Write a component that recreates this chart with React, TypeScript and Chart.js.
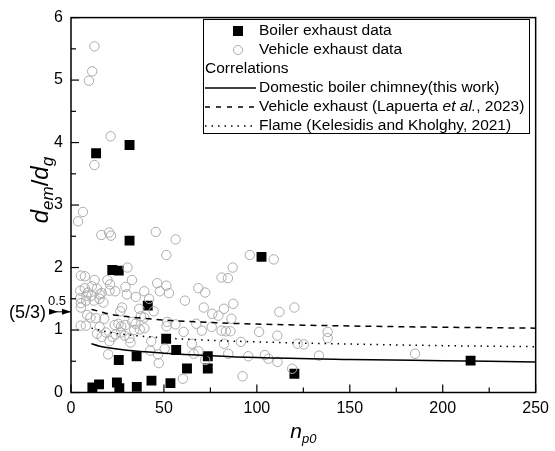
import React, { useEffect, useRef } from "react";
import { Chart, registerables } from "chart.js";
Chart.register(...registerables);

// ---------- data ----------
const boilerN = [13.5, 31.5, 31.5, 22.2, 25.7, 41.3, 51.2, 56.6, 35.3, 25.7, 62.4, 73.6, 73.6, 11.5, 15.1, 24.7, 26, 35.4, 43.3, 53.5, 102.5, 120.2, 215];
const boilerY = [3.83, 3.96, 2.43, 1.96, 1.95, 1.39, 0.86, 0.68, 0.58, 0.52, 0.385, 0.58, 0.385, 0.08, 0.13, 0.16, 0.07, 0.09, 0.19, 0.15, 2.17, 0.3, 0.51];

const vehicleN = [12.6, 11.4, 9.6, 21.3, 12.6, 6.4, 3.8, 16.3, 20.5, 21.5, 45.6, 56.3, 51.3, 30.4, 87, 96.2, 109.1, 81, 84.4, 5.3,
  7.5, 12.7, 19.6, 21, 32.8, 46.4, 51.3, 47.8, 52.7, 29.3, 30, 34.9, 39.4, 42, 68.5, 72.2, 61.3, 71.4, 82.3, 76,
  79.3, 86.3, 87.3, 112.1, 120.2, 5, 7.4, 9, 11.2, 14, 16.5, 20.7, 23.8, 5, 5.3, 5.3, 8.3, 8.1, 11, 12.2,
  15.4, 15.3, 17.4, 8.7, 10.5, 13.4, 17.9, 5.2, 8, 15.4, 14, 18.8, 16.5, 22.3, 20.7, 23.5, 25.5, 27, 29.2, 24,
  26.8, 28.8, 31.5, 32, 34, 37, 39.5, 37.6, 36.7, 27.5, 26.5, 33, 34.7, 44.5, 39.4, 43.2, 42.6, 46.8, 47.2, 50.4,
  20, 51.8, 51.4, 56.2, 67.4, 70.4, 75.7, 81, 83.3, 85.8, 82.3, 60.6, 65, 68.6, 66, 72.2, 60.2, 84.6, 101.2, 111,
  91.4, 122, 125.3, 138.1, 138.1, 95.4, 104.3, 106.2, 111.1, 119, 133.4, 92.3, 185.1];
const vehicleY = [5.54, 5.14, 4.99, 4.1, 3.64, 2.89, 2.74, 2.52, 2.56, 2.51, 2.57, 2.45, 2.2, 2.0, 2.0, 2.2, 2.13, 1.84, 1.83, 1.87,
  1.86, 1.8, 1.8, 1.73, 1.8, 1.75, 1.71, 1.62, 1.59, 1.69, 1.57, 1.53, 1.62, 1.5, 1.67, 1.6, 1.47, 1.36, 1.34, 1.26,
  1.23, 1.18, 1.42, 1.29, 1.36, 1.63, 1.67, 1.6, 1.7, 1.66, 1.59, 1.63, 1.62, 1.51, 1.43, 1.36, 1.55, 1.47, 1.55, 1.47,
  1.57, 1.5, 1.44, 1.24, 1.2, 1.19, 1.18, 1.07, 1.07, 1.05, 0.94, 0.96, 0.89, 0.89, 0.82, 1.08, 1.1, 1.06, 1.08, 0.93,
  0.96, 0.91, 0.87, 0.8, 1.0, 1.01, 1.03, 1.22, 1.34, 1.36, 1.3, 1.13, 1.1, 1.3, 1.2, 0.82, 0.67, 0.61, 0.47, 0.7,
  0.61, 1.13, 1.06, 1.09, 1.1, 0.99, 1.05, 0.99, 0.98, 0.98, 0.78, 0.97, 0.78, 0.66, 0.62, 0.52, 0.22, 0.62, 0.97, 0.91,
  0.81, 0.78, 0.77, 0.97, 0.87, 0.58, 0.6, 0.54, 0.49, 0.38, 0.59, 0.26, 0.62];

const curveN = [11, 15, 20, 30, 50, 75, 100, 150, 200, 250];
const domesticY = [0.78, 0.745, 0.715, 0.675, 0.63, 0.59, 0.56, 0.53, 0.51, 0.49];
const lapuertaY = [1.33, 1.3, 1.26, 1.215, 1.16, 1.12, 1.095, 1.065, 1.045, 1.03];
const flameY = [1.03, 1.0, 0.967, 0.925, 0.874, 0.836, 0.81, 0.775, 0.75, 0.733];

const xTicks = [0, 50, 100, 150, 200, 250];
const yTicks = [0, 1, 2, 3, 4, 5, 6];
const refValue = Math.sqrt(5 / 3);

const legendBoiler = "Boiler exhaust data";
const legendVehicle = "Vehicle exhaust data";
const legendHeader = "Correlations";
const legendDomestic = "Domestic boiler chimney(this work)";
const legendLapuerta = ["Vehicle exhaust (Lapuerta ", "et al.", ", 2023)"];
const legendFlame = "Flame (Kelesidis and Kholghy, 2021)";

const FF = "'Liberation Sans', Arial, sans-serif";
const CIRCLE = "#ababab";
const LEG = 15.5;

const toPts = (xs: number[], ys: number[]) => xs.map((x, i) => ({ x, y: ys[i] }));

const decor = {
  id: "decor",
  afterDraw(chart: any) {
    const ctx = chart.ctx as CanvasRenderingContext2D;
    const { left, right, top, bottom } = chart.chartArea;
    const xs = chart.scales.x;
    const ys = chart.scales.y;
    ctx.save();
    // frame
    ctx.strokeStyle = "#000";
    ctx.lineWidth = 1.5;
    ctx.strokeRect(left, top, right - left, bottom - top);
    // inward ticks
    ctx.lineWidth = 1.2;
    const xStep = xTicks[1] - xTicks[0];
    for (let i = 0; i < xTicks.length; i++) {
      const v = xTicks[i];
      let p = xs.getPixelForValue(v);
      ctx.beginPath(); ctx.moveTo(p, bottom); ctx.lineTo(p, bottom - 8); ctx.stroke();
      if (i < xTicks.length - 1) {
        p = xs.getPixelForValue(v + xStep / 2);
        ctx.beginPath(); ctx.moveTo(p, bottom); ctx.lineTo(p, bottom - 5); ctx.stroke();
      }
    }
    const yStep = yTicks[1] - yTicks[0];
    for (let i = 0; i < yTicks.length; i++) {
      const v = yTicks[i];
      let p = ys.getPixelForValue(v);
      ctx.beginPath(); ctx.moveTo(left, p); ctx.lineTo(left + 8, p); ctx.stroke();
      if (i < yTicks.length - 1) {
        p = ys.getPixelForValue(v + yStep / 2);
        ctx.beginPath(); ctx.moveTo(left, p); ctx.lineTo(left + 5, p); ctx.stroke();
      }
    }

    // (5/3)^0.5 annotation
    const ry = ys.getPixelForValue(refValue);
    ctx.fillStyle = "#000";
    ctx.textBaseline = "alphabetic";
    ctx.textAlign = "left";
    ctx.font = `18px ${FF}`;
    ctx.fillText("(5/3)", 9, ry + 6);
    ctx.font = `13px ${FF}`;
    ctx.fillText("0.5", 48, ry - 7);
    ctx.lineWidth = 1;
    ctx.beginPath(); ctx.moveTo(50, ry); ctx.lineTo(left, ry); ctx.stroke();
    const tri = (tipX: number) => {
      ctx.beginPath();
      ctx.moveTo(tipX, ry);
      ctx.lineTo(tipX - 9, ry - 3);
      ctx.lineTo(tipX - 9, ry + 3);
      ctx.closePath();
      ctx.fill();
    };
    tri(58);
    tri(left);

    // axis titles
    const drawParts = (parts: { t: string; font: string; dy: number }[], x: number, y: number, center: boolean) => {
      let w = 0;
      for (const p of parts) { ctx.font = p.font; w += ctx.measureText(p.t).width; }
      let cx = center ? x - w / 2 : x;
      for (const p of parts) {
        ctx.font = p.font;
        ctx.fillText(p.t, cx, y + p.dy);
        cx += ctx.measureText(p.t).width;
      }
    };
    ctx.textAlign = "left";
    drawParts([
      { t: "n", font: `italic 21px ${FF}`, dy: 0 },
      { t: "p0", font: `italic 13px ${FF}`, dy: 5 },
    ], (left + right) / 2, 438, true);

    ctx.save();
    ctx.translate(40, (top + bottom) / 2 - 15);
    ctx.rotate(-Math.PI / 2);
    drawParts([
      { t: "d", font: `italic 24px ${FF}`, dy: 0 },
      { t: "em", font: `italic 17px ${FF}`, dy: 5 },
      { t: "/", font: `24px ${FF}`, dy: 0 },
      { t: "d", font: `italic 24px ${FF}`, dy: 0 },
      { t: "g", font: `italic 17px ${FF}`, dy: 5 },
    ], 0, 8, true);
    ctx.restore();

    // legend
    const lx = 203, ly = 19, lw = 326, lh = 114;
    ctx.fillStyle = "#fff";
    ctx.fillRect(lx, ly, lw, lh);
    ctx.strokeStyle = "#000";
    ctx.lineWidth = 1;
    ctx.strokeRect(lx + 0.5, ly + 0.5, lw, lh);
    ctx.fillStyle = "#000";
    ctx.textBaseline = "middle";
    ctx.font = `${LEG}px ${FF}`;
    const tx = 259;
    const rows = [31, 50, 69, 88, 107, 126];
    // boiler
    ctx.fillRect(233, rows[0] - 5, 10, 10);
    ctx.fillText(legendBoiler, tx, rows[0]);
    // vehicle
    ctx.strokeStyle = CIRCLE;
    ctx.beginPath(); ctx.arc(238, rows[1], 4.5, 0, Math.PI * 2); ctx.stroke();
    ctx.fillText(legendVehicle, tx, rows[1]);
    ctx.fillText(legendHeader, 205, rows[2]);
    ctx.strokeStyle = "#000";
    ctx.lineWidth = 1.5;
    ctx.beginPath(); ctx.moveTo(205, rows[3]); ctx.lineTo(256, rows[3]); ctx.stroke();
    ctx.fillText(legendDomestic, tx, rows[3]);
    ctx.setLineDash([5, 6]);
    ctx.beginPath(); ctx.moveTo(205, rows[4]); ctx.lineTo(256, rows[4]); ctx.stroke();
    drawParts([
      { t: legendLapuerta[0], font: `${LEG}px ${FF}`, dy: 0 },
      { t: legendLapuerta[1], font: `italic ${LEG}px ${FF}`, dy: 0 },
      { t: legendLapuerta[2], font: `${LEG}px ${FF}`, dy: 0 },
    ], tx, rows[4], false);
    ctx.setLineDash([1.5, 5]);
    ctx.beginPath(); ctx.moveTo(205, rows[5]); ctx.lineTo(256, rows[5]); ctx.stroke();
    ctx.setLineDash([]);
    ctx.font = `${LEG}px ${FF}`;
    ctx.fillText(legendFlame, tx, rows[5]);
    ctx.restore();
  },
};

export default function App() {
  const ref = useRef<HTMLCanvasElement | null>(null);
  useEffect(() => {
    if (!ref.current) return;
    const lineBase = {
      showLine: true,
      pointRadius: 0,
      borderColor: "#000",
      borderWidth: 1.5,
      cubicInterpolationMode: "monotone" as const,
      fill: false,
    };
    const chart = new Chart(ref.current, {
      type: "scatter",
      data: {
        datasets: [
          { ...lineBase, label: "Domestic", data: toPts(curveN, domesticY) },
          { ...lineBase, label: "Lapuerta", data: toPts(curveN, lapuertaY), borderDash: [6, 5] },
          { ...lineBase, label: "Flame", data: toPts(curveN, flameY), borderDash: [1.5, 5] },
          {
            label: legendVehicle,
            data: toPts(vehicleN, vehicleY),
            pointStyle: "circle",
            pointRadius: 4.7,
            borderColor: CIRCLE,
            borderWidth: 1,
            backgroundColor: "rgba(0,0,0,0)",
          },
          {
            label: legendBoiler,
            data: toPts(boilerN, boilerY),
            pointStyle: "rect",
            pointRadius: 7,
            borderWidth: 0,
            borderColor: "#000",
            backgroundColor: "#000",
          },
        ],
      },
      options: {
        animation: false,
        responsive: false,
        layout: { padding: { left: 0, right: 14, top: 15, bottom: 0 } },
        plugins: { legend: { display: false }, tooltip: { enabled: false } },
        scales: {
          x: {
            type: "linear",
            min: 0,
            max: 250,
            afterBuildTicks: (s: any) => { s.ticks = xTicks.map((v) => ({ value: v })); },
            afterFit: (s: any) => { s.height = 58.5; },
            grid: { display: false, drawTicks: false },
            border: { display: false },
            ticks: { color: "#000", font: { family: FF, size: 16 }, padding: 6, maxRotation: 0 },
          },
          y: {
            type: "linear",
            min: 0,
            max: 6,
            afterBuildTicks: (s: any) => { s.ticks = yTicks.map((v) => ({ value: v })); },
            afterFit: (s: any) => { s.width = 71; },
            grid: { display: false, drawTicks: false },
            border: { display: false },
            ticks: { color: "#000", font: { family: FF, size: 16 }, padding: 8 },
          },
        },
      },
      plugins: [decor],
    });
    return () => chart.destroy();
  }, []);
  return (
    <canvas
      ref={ref}
      width={555}
      height={451}
      style={{ position: "absolute", left: 0, top: 0, display: "block" }}
    />
  );
}
